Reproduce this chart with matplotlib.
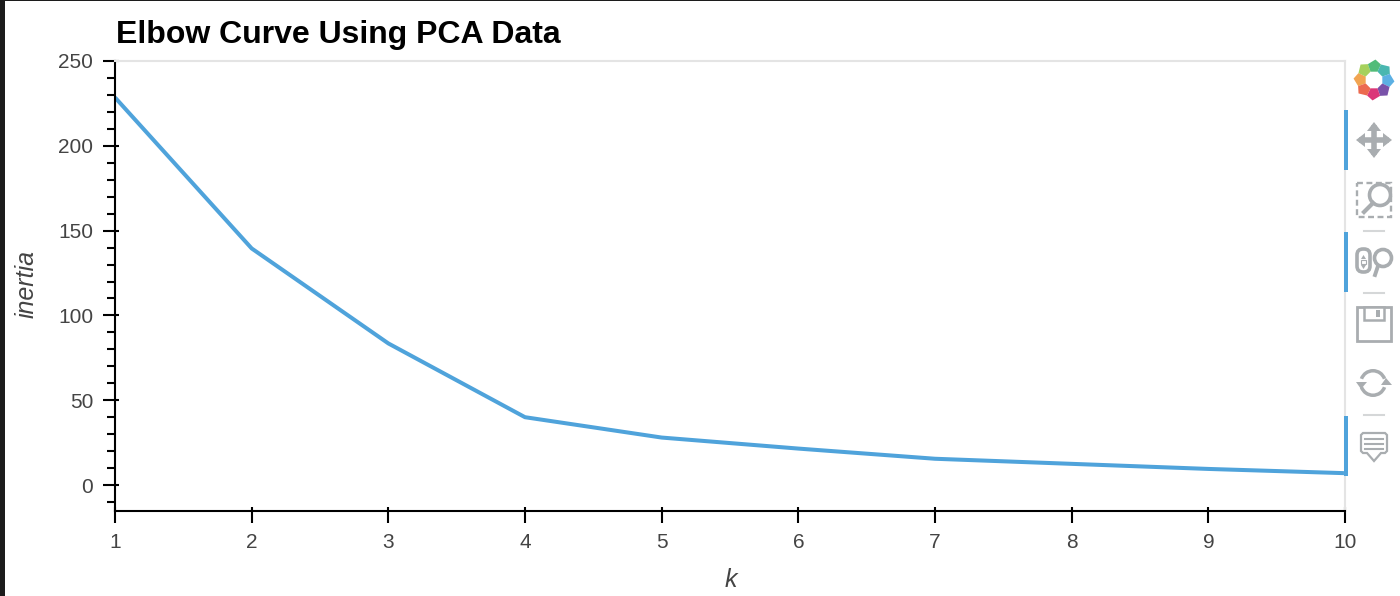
## elbow curve screenshot, with the bokeh toolbar down the right side

import math

import matplotlib.pyplot as plt
from matplotlib.patches import Circle, FancyBboxPatch, Polygon, Rectangle, Wedge
from matplotlib.ticker import MultipleLocator

k_values = [1, 2, 3, 4, 5, 6, 7, 8, 9, 10]
inertia = [228.5, 139.5, 83.5, 40, 28, 21.5, 15.5, 12.5, 9.5, 7]
y_ticks = [0, 50, 100, 150, 200, 250]

W, H = 1400, 596
LINE = "#4fa3db"
ICON = "#a9adb0"
TEXT = "#444444"

plt.rcParams["font.family"] = ["Liberation Sans", "DejaVu Sans"]

fig = plt.figure(figsize=(W / 100, H / 100), dpi=100, facecolor="white")

# plot area: x from 115 to 1345 px, y from 61 to 511 px
ax = fig.add_axes([115 / W, 1 - 511 / H, 1230 / W, 450 / H])
ax.plot(k_values, inertia, color=LINE, lw=2.9, solid_capstyle="butt")
ax.set_xlim(1, 10)
ax.set_ylim(-15.3, 250)
ax.set_xticks(k_values)
ax.set_yticks(y_ticks)
ax.yaxis.set_minor_locator(MultipleLocator(10))

for side in ["top", "right"]:
    ax.spines[side].set_color("#e4e4e4")
    ax.spines[side].set_linewidth(1.5)
for side in ["left", "bottom"]:
    ax.spines[side].set_linewidth(1.5)

ax.tick_params(axis="both", which="major", direction="out", length=8.6, width=1.5,
               labelsize=15, labelcolor=TEXT, pad=7)
ax.tick_params(axis="y", which="minor", direction="out", length=5.8, width=1.5)

# bokeh major ticks also poke a little way inside the frame
inner_y = ax.secondary_yaxis("left")
inner_y.set_yticks(y_ticks)
inner_y.tick_params(direction="in", length=3, width=1.5, labelleft=False)
inner_y.spines["left"].set_visible(False)
inner_x = ax.secondary_xaxis("bottom")
inner_x.set_xticks(k_values)
inner_x.tick_params(direction="in", length=3, width=1.5, labelbottom=False)
inner_x.spines["bottom"].set_visible(False)

ax.set_title("Elbow Curve Using PCA Data", loc="left", fontsize=23, fontweight="bold",
             color="black", pad=13, x=0.0008)

# overlay in pixel coordinates for the labels, window edge and toolbar
ov = fig.add_axes([0, 0, 1, 1], facecolor="none")
ov.set_xlim(0, W)
ov.set_ylim(H, 0)
ov.axis("off")

ov.text(731, 580, "k", fontsize=18, style="italic", color=TEXT, ha="center", va="center")
ov.text(27, 284, "inertia", fontsize=18, style="italic", color=TEXT, ha="center", va="center",
        rotation=90)

ov.add_patch(Rectangle((0, 0), 5, H, color="#1c1c1c", lw=0))
ov.add_patch(Rectangle((0, 0), W, 1, color="#1c1c1c", lw=0))

# active tool markers
for top, bottom in [(110, 170), (232, 292), (416, 476)]:
    ov.add_patch(Rectangle((1344, top), 4, bottom - top, color=LINE, lw=0))

# separators
for y in [231, 293, 415]:
    ov.plot([1364, 1384], [y, y], color="#d5d7d8", lw=1.5)

# logo, eight petals going clockwise from the left
logo = ["#f09a3e", "#9ccc4a", "#3fb56a", "#35b0a8", "#4aa8e0", "#6b3fa0", "#d8206a", "#ea5a3c"]
for i, c in enumerate(logo):
    a = 180 + i * 45
    petal = [(9, a - 22.5), (9, a + 22.5), (17, a + 24), (20.5, a + 4), (17, a - 21)]
    pts = [(1374 + r * math.cos(math.radians(t)), 80 + r * math.sin(math.radians(t)))
           for r, t in petal]
    ov.add_patch(Polygon(pts, color=c, lw=0, alpha=0.9))

# pan
ov.plot([1374, 1374], [128, 152], color=ICON, lw=4)
ov.plot([1362, 1386], [140, 140], color=ICON, lw=4)
for pts in [[(1374, 122), (1367, 131), (1381, 131)], [(1374, 158), (1367, 149), (1381, 149)],
            [(1356, 140), (1365, 133), (1365, 147)], [(1392, 140), (1383, 133), (1383, 147)]]:
    ov.add_patch(Polygon(pts, color=ICON, lw=0))

# box zoom
ov.add_patch(Rectangle((1357, 183), 34, 34, fill=False, ec=ICON, lw=1.7, ls=(0, (2.5, 1.5))))
ov.add_patch(Circle((1380, 195), 10.5, fc="white", ec=ICON, lw=2.6))
ov.plot([1373, 1364], [203, 212], color=ICON, lw=3)

# wheel zoom
ov.add_patch(FancyBboxPatch((1360, 252), 7, 17, boxstyle="round,pad=3,rounding_size=6",
                            fc="white", ec=ICON, lw=2.6))
ov.add_patch(Polygon([(1363.5, 255), (1361, 259), (1366, 259)], color=ICON, lw=0))
ov.add_patch(Polygon([(1363.5, 269), (1361, 265), (1366, 265)], color=ICON, lw=0))
ov.add_patch(Rectangle((1361, 260), 5, 4, fc="white", ec=ICON, lw=0.8))
ov.add_patch(Circle((1383, 258), 8.5, fc="white", ec=ICON, lw=2.6))
ov.plot([1378, 1375], [266, 275], color=ICON, lw=2.8)

# save
ov.add_patch(Rectangle((1357, 307), 34, 34, fc="white", ec=ICON, lw=2))
ov.add_patch(Rectangle((1364, 307), 20, 13, fc="white", ec=ICON, lw=1.8))
ov.add_patch(Rectangle((1376, 310), 4, 7, color=ICON, lw=0))

# reset
ov.add_patch(Wedge((1373, 383), 14, 200, 340, width=3.5, color=ICON, lw=0))
ov.add_patch(Wedge((1373, 383), 14, 20, 160, width=3.5, color=ICON, lw=0))
ov.add_patch(Polygon([(1381, 385), (1392, 385), (1386, 378)], color=ICON, lw=0))
ov.add_patch(Polygon([(1356, 382), (1367, 382), (1361, 389)], color=ICON, lw=0))

# comment
ov.add_patch(Polygon([(1363, 433), (1385, 433), (1387, 435), (1387, 451), (1385, 453), (1381, 453),
                      (1374, 461), (1367, 453), (1363, 453), (1361, 451), (1361, 435)],
                     fc="white", ec=ICON, lw=1.6))
for y in [439, 444, 449]:
    ov.plot([1365, 1383], [y, y], color=ICON, lw=1.5)

fig.savefig("out.png", dpi=100)
